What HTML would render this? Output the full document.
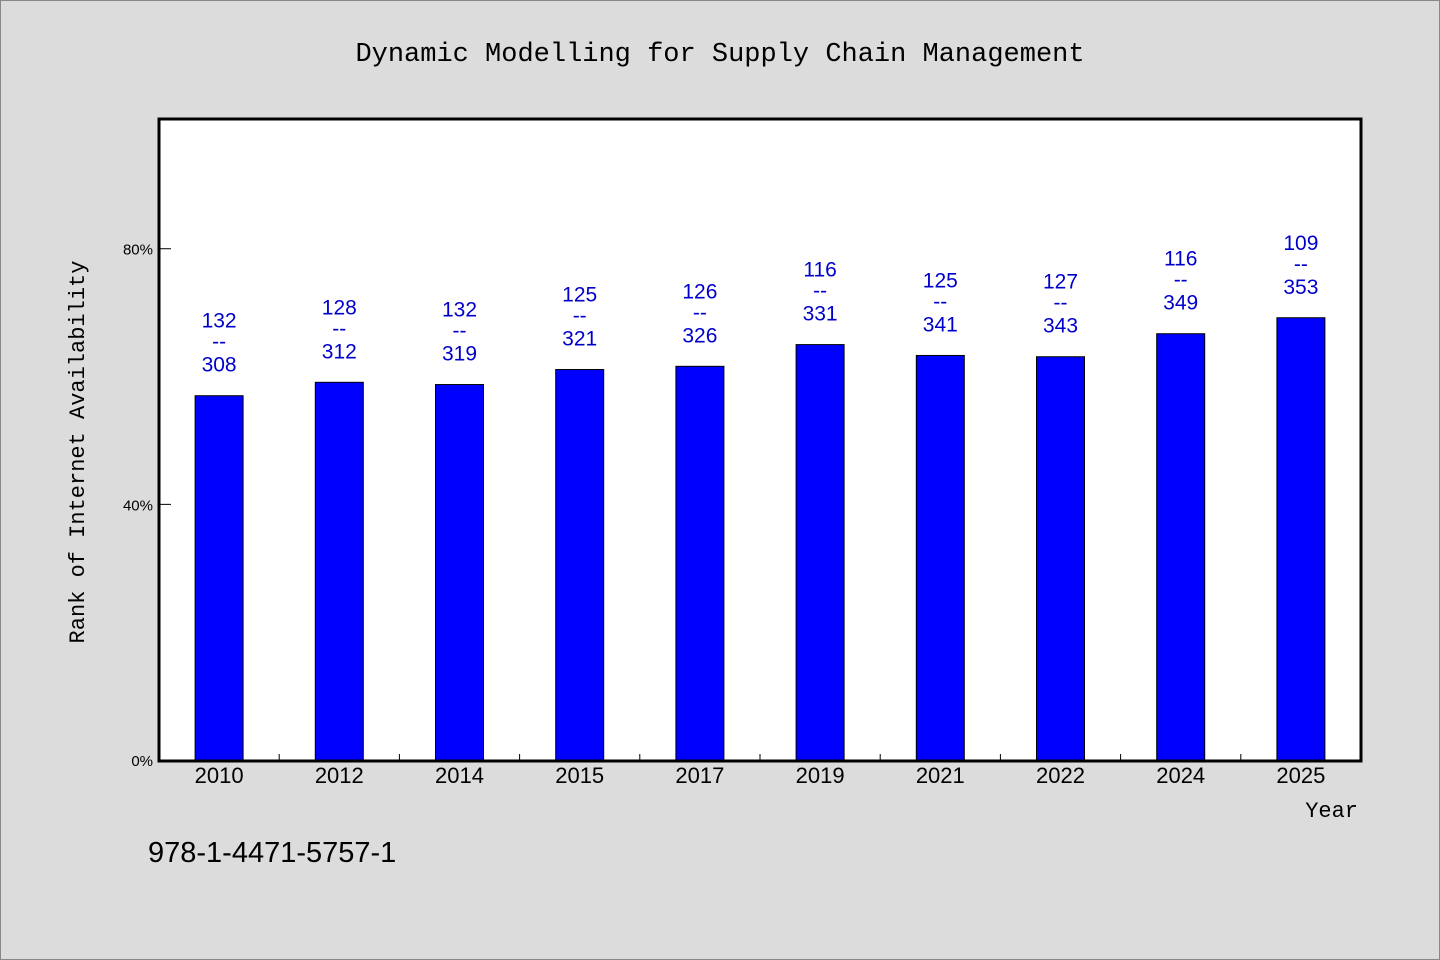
<!DOCTYPE html>
<html><head><meta charset="utf-8"><style>
body{margin:0;background:#dcdcdc;}
svg{display:block;font-family:"Liberation Mono","Noto Sans CJK SC",monospace;}
</style></head><body>
<svg id="c" width="1440" height="960">
<rect x="0.5" y="0.5" width="1439" height="959" fill="#dcdcdc" stroke="#888"/>
<text x="720" y="61" text-anchor="middle" font-size="27" fill="#000">Dynamic Modelling for Supply Chain Management</text>
<rect x="159" y="119" width="1202" height="642" fill="#fff"/>
<g id="bars"></g>
<g id="axes"></g>
<text transform="translate(84,452) rotate(-90)" text-anchor="middle" font-size="22" fill="#000">Rank of Internet Availability</text>
<text x="1358" y="817" text-anchor="end" font-size="22" fill="#000">Year</text>
<text x="148" y="862" font-family="Liberation Sans, sans-serif" font-size="29" fill="#000">978-1-4471-5757-1</text>
</svg>
<script>
const categories=["2010","2012","2014","2015","2017","2019","2021","2022","2024","2025"];
const values=[57.0,59.1,58.75,61.1,61.6,65.0,63.3,63.1,66.7,69.2];
const topLabels=["132","128","132","125","126","116","125","127","116","109"];
const bottomLabels=["308","312","319","321","326","331","341","343","349","353"];
const yTicks=[0,40,80];
const NS="http://www.w3.org/2000/svg";
const X0=159,X1=1361,Y0=760,Ytop=119,YMAX=100.3;
const bw=(X1-X0)/categories.length;
const xs=i=>X0+bw*(i+0.5);
const ys=v=>Y0-v*(Y0-Ytop)/YMAX;
function mk(t,a,p){const e=document.createElementNS(NS,t);for(const k in a)e.setAttribute(k,a[k]);(p||document.getElementById('c')).appendChild(e);return e;}
const bars=document.getElementById('bars'),axes=document.getElementById('axes');
categories.forEach((c,i)=>{
  const cx=xs(i),y=ys(values[i]);
  const r=mk('rect',{x:cx-24,y:y,width:48,height:Y0-y,fill:'#0000ff',stroke:'#000','stroke-width':1},bars);
  
  
  const t=mk('text',{x:cx,y:y-68,'text-anchor':'middle','font-family':'Liberation Sans, sans-serif','font-size':21,fill:'#0000cc'},bars);
  t.textContent=topLabels[i];
  
  
  const d=mk('text',{x:cx,y:y-47,'text-anchor':'middle','font-family':'Liberation Sans, sans-serif','font-size':21,fill:'#0000cc'},bars);
  d.textContent="--";
  
  
  const b=mk('text',{x:cx,y:y-24,'text-anchor':'middle','font-family':'Liberation Sans, sans-serif','font-size':21,fill:'#0000cc'},bars);
  b.textContent=bottomLabels[i];
  
  
  const xl=mk('text',{x:cx,y:783,'text-anchor':'middle','font-family':'Liberation Sans, sans-serif','font-size':22,fill:'#000'},axes);
  xl.textContent=c;
  
  
  if(i>0){const tk=mk('line',{x1:X0+bw*i,x2:X0+bw*i,y1:Y0,y2:Y0-6,stroke:'#000','stroke-width':1},axes);
  
  }
});
yTicks.forEach(v=>{
  const y=ys(v);
  const l=mk('line',{x1:X0,x2:X0+12,y1:y,y2:y,stroke:'#000','stroke-width':1},axes);
  
  
  const t=mk('text',{x:153,y:y+6,'text-anchor':'end','font-family':'Liberation Sans, sans-serif','font-size':15,fill:'#000'},axes);
  t.textContent=v+"%";
  
  
});
const f=mk('rect',{x:X0,y:Ytop,width:X1-X0,height:Y0-Ytop+1,fill:'none',stroke:'#000','stroke-width':3},axes);


</script>
</body></html>
